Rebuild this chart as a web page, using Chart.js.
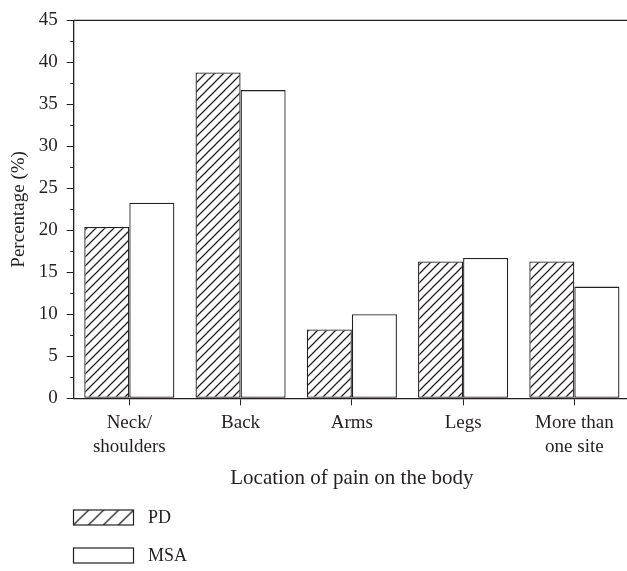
<!DOCTYPE html>
<html>
<head>
<meta charset="utf-8">
<script src="https://cdn.jsdelivr.net/npm/chart.js@4/dist/chart.umd.min.js"></script>
<style>
  html, body { margin: 0; padding: 0; background: #fff; overflow: hidden; }
  #wrap { width: 627px; height: 571px; overflow: hidden; }
  canvas { display: block; }
</style>
</head>
<body>
<div id="wrap"><canvas id="c" width="632" height="571"></canvas></div>
<script>
// Share of patients reporting pain, by body site
const categories = [["Neck/", "shoulders"], "Back", "Arms", "Legs", ["More than", "one site"]];
const seriesNames = ["PD", "MSA"];
const pdValues  = [20.4, 38.8, 8.2, 16.3, 16.3];
const msaValues = [23.3, 36.7, 10.0, 16.7, 13.3];
const yTicks = [0, 5, 10, 15, 20, 25, 30, 35, 40, 45];
const yMinorTicks = [2.5, 7.5, 12.5, 17.5, 22.5, 27.5, 32.5, 37.5, 42.5];

const INK = '#231f20';
const SERIF = '"Liberation Serif", "DejaVu Serif", serif';

// diagonal "/" hatch; s is the repeat size in pixels
function hatchPattern(s) {
  const pc = document.createElement('canvas');
  pc.width = s; pc.height = s;
  const g = pc.getContext('2d');
  g.fillStyle = '#fff';
  g.fillRect(0, 0, s, s);
  g.strokeStyle = INK;
  g.lineWidth = 1.25;
  g.beginPath();
  g.moveTo(-1, s + 1); g.lineTo(s + 1, -1);
  g.moveTo(-1, 1); g.lineTo(1, -1);
  g.moveTo(s - 1, s + 1); g.lineTo(s + 1, s - 1);
  g.stroke();
  return g.createPattern(pc, 'repeat');
}
const barHatch = hatchPattern(9);
const keyHatch = hatchPattern(15);

// frame line along the top and short minor ticks on the value axis
const framePlugin = {
  id: 'frame',
  afterDraw(chart) {
    const { ctx, chartArea: a } = chart;
    const y = chart.scales.y;
    ctx.save();
    ctx.strokeStyle = INK;
    ctx.lineWidth = 1.3;
    ctx.beginPath();
    ctx.moveTo(a.left, a.top);
    ctx.lineTo(a.right, a.top);
    ctx.stroke();
    ctx.lineWidth = 1;
    ctx.beginPath();
    yMinorTicks.forEach(v => {
      const py = Math.round(y.getPixelForValue(v)) + 0.5;
      ctx.moveTo(a.left - 3.5, py);
      ctx.lineTo(a.left, py);
    });
    ctx.stroke();
    ctx.restore();
  }
};

// stacked legend beneath the axis title
const legendPlugin = {
  id: 'stackLegend',
  afterDraw(chart) {
    const { ctx } = chart;
    ctx.save();
    ctx.font = '18px ' + SERIF;
    ctx.textBaseline = 'middle';
    chart.data.datasets.forEach((ds, i) => {
      const top = 510 + i * 38;
      ctx.save();
      ctx.translate(73.5, top);
      ctx.fillStyle = ds.backgroundColor === barHatch ? keyHatch : ds.backgroundColor;
      ctx.fillRect(0, 0, 60, 15);
      ctx.restore();
      ctx.strokeStyle = INK;
      ctx.lineWidth = 1.2;
      ctx.strokeRect(73.5, top, 60, 15);
      ctx.fillStyle = INK;
      ctx.fillText(ds.label, 148, top + 8);
    });
    ctx.restore();
  }
};

new Chart(document.getElementById('c'), {
  type: 'bar',
  data: {
    labels: categories,
    datasets: [
      { label: seriesNames[0], data: pdValues, backgroundColor: barHatch,
        borderColor: INK, borderWidth: 1.3, borderSkipped: false },
      { label: seriesNames[1], data: msaValues, backgroundColor: '#ffffff',
        borderColor: INK, borderWidth: 1.3, borderSkipped: false }
    ]
  },
  options: {
    responsive: false,
    animation: false,
    devicePixelRatio: 1,
    layout: { padding: { left: 0, right: 2, top: 15.7, bottom: 80 } },
    datasets: { bar: { categoryPercentage: 0.81, barPercentage: 1.0 } },
    plugins: { legend: { display: false }, tooltip: { enabled: false } },
    scales: {
      x: {
        grid: { display: true, drawOnChartArea: false, drawTicks: true, tickLength: 7,
                offset: false, color: INK, tickColor: INK, lineWidth: 1 },
        border: { display: true, color: INK, width: 1.3 },
        ticks: { color: INK, font: { family: SERIF, size: 19, lineHeight: 1.25 },
                 padding: 6, maxRotation: 0, autoSkip: false },
        title: { display: true, text: 'Location of pain on the body', color: INK,
                 font: { family: SERIF, size: 21 }, padding: { top: 0, bottom: 0 } },
        afterFit(scale) { scale.height = 92.7; }
      },
      y: {
        min: 0, max: 45,
        afterBuildTicks(scale) { scale.ticks = yTicks.map(v => ({ value: v })); },
        grid: { display: true, drawOnChartArea: false, drawTicks: true, tickLength: 7,
                color: INK, tickColor: INK, lineWidth: 1 },
        border: { display: true, color: INK, width: 1.3 },
        ticks: { color: INK, font: { family: SERIF, size: 19 }, padding: 9 },
        title: { display: true, text: 'Percentage (%)', color: INK,
                 font: { family: SERIF, size: 19 }, padding: { top: 8, bottom: 0 } },
        afterFit(scale) { scale.width = 73.7; }
      }
    }
  },
  plugins: [framePlugin, legendPlugin]
});
</script>
</body>
</html>
